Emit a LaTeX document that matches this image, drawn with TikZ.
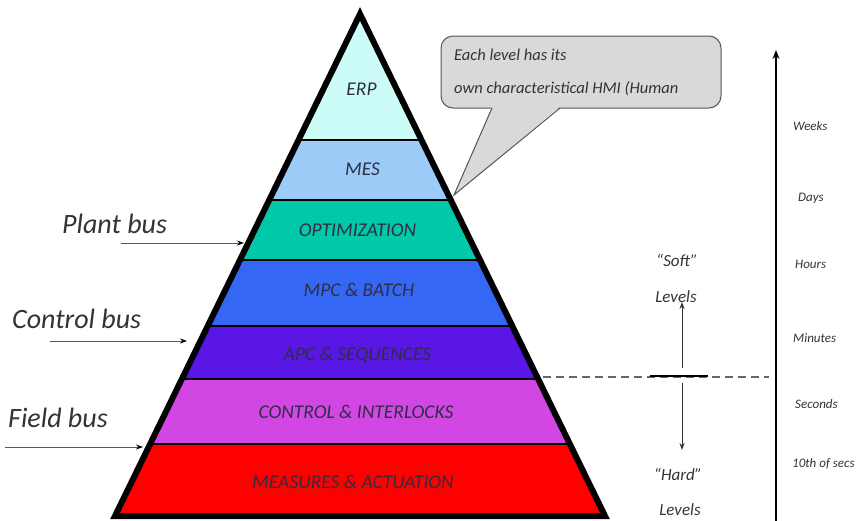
\documentclass[tikz,border=0pt]{standalone}
\usepackage{fontspec}
\setmainfont{Carlito}
\usetikzlibrary{arrows.meta}
\definecolor{erpc}{HTML}{CCFCF8}
\definecolor{mesc}{HTML}{9CCBF8}
\definecolor{optc}{HTML}{00C8A8}
\definecolor{mpcc}{HTML}{3468F4}
\definecolor{apcc}{HTML}{5A16E4}
\definecolor{ctlc}{HTML}{D247E3}
\definecolor{meac}{HTML}{FF0000}
\definecolor{txtc}{HTML}{2E2E44}
\definecolor{labc}{HTML}{333333}
\definecolor{calloutc}{HTML}{D9D9D9}
\definecolor{calloutb}{HTML}{555555}
\tikzset{
  bandtxt/.style={font=\fontsize{19.5}{20}\selectfont\itshape, text=txtc, anchor=base, inner sep=0},
  buslbl/.style={font=\fontsize{28}{30}\selectfont\itshape, text=labc, anchor=base west, inner sep=0},
  timelbl/.style={font=\fontsize{13}{14}\selectfont\itshape, text=labc, anchor=base west, inner sep=0},
  levlbl/.style={font=\fontsize{17}{18}\selectfont\itshape, text=labc, anchor=base, inner sep=0},
  calltxt/.style={font=\fontsize{16.5}{18}\selectfont\itshape, text=labc, anchor=base west, inner sep=0},
  busarrow/.style={draw=gray!70!black, line width=0.9, -{Stealth[length=7pt,width=5pt,black]}},
  levarrow/.style={draw=black!80, line width=0.9, -{Stealth[length=7pt,width=5pt]}},
  bandline/.style={draw=black, line width=2},
}
\begin{document}
\begin{tikzpicture}[x=1pt,y=-1pt]
\useasboundingbox (0,0) rectangle (862,520);
\coordinate (A) at (360,14);
\coordinate (BL) at (115,516);
\coordinate (BR) at (605,516);
\begin{scope}
  \clip (A) -- (BL) -- (BR) -- cycle;
  \fill[erpc] (0,0) rectangle (862,140);
  \fill[mesc] (0,140) rectangle (862,200);
  \fill[optc] (0,200) rectangle (862,260);
  \fill[mpcc] (0,260) rectangle (862,326);
  \fill[apcc] (0,326) rectangle (862,379);
  \fill[ctlc] (0,379) rectangle (862,444);
  \fill[meac] (0,444) rectangle (862,530);
  \draw[bandline] (0,140) -- (862,140);
  \draw[bandline] (0,200) -- (862,200);
  \draw[bandline] (0,260) -- (862,260);
  \draw[bandline] (0,326) -- (862,326);
  \draw[bandline] (0,379) -- (862,379);
  \draw[bandline] (0,444) -- (862,444);
\end{scope}
\draw[line width=6, line join=miter] (A) -- (BL) -- (BR) -- cycle;

\node[bandtxt] (erp) at (361.5,95) {ERP};
\node[bandtxt] (mes) at (362.5,175) {MES};
\node[bandtxt] (opt) at (357.5,236.5) {OPTIMIZATION};
\node[bandtxt] (mpc) at (359,296.5) {MPC \& BATCH};
\node[bandtxt] (apc) at (357.5,360) {APC \& SEQUENCES};
\node[bandtxt] (ctl) at (356,418) {CONTROL \& INTERLOCKS};
\node[bandtxt] (mea) at (353,488) {MEASURES \& ACTUATION};

% callout
\draw[fill=calloutc, draw=calloutb, line width=1, rounded corners=12] (441,36) rectangle (721,108);
\fill[calloutc] (492,106.5) -- (560,106.5) -- (454,195) -- cycle;
\coordinate (ptip) at (454,195);
\draw[calloutb, line width=1, line join=miter] (492,108) -- (ptip) -- (560,108);
\node[calltxt] (c1) at (454,60) {Each level has its};
\node[calltxt] (c2) at (454,93) {own characteristical HMI (Human};

% bus labels
\node[buslbl] (plant) at (62,233) {Plant bus};
\node[buslbl] (control) at (12,328) {Control bus};
\node[buslbl] (field) at (8,427) {Field bus};
\coordinate (p0) at (121,243); \coordinate (p1) at (244,243);
\coordinate (k0) at (50,341); \coordinate (k1) at (187,341);
\coordinate (f0) at (5,447); \coordinate (f1) at (143,447);
\draw[busarrow] (p0) -- (p1);
\draw[busarrow] (k0) -- (k1);
\draw[busarrow] (f0) -- (f1);

% time axis
\coordinate (ax0) at (776,522);
\coordinate (ax1) at (776,50);
\draw[line width=1.3, -{Stealth[length=9pt,width=7pt]}] (ax0) -- (ax1);
\node[timelbl] (weeks) at (793,130) {Weeks};
\node[timelbl] (days) at (798,201) {Days};
\node[timelbl] (hours) at (795,268) {Hours};
\node[timelbl] (minutes) at (793,342) {Minutes};
\node[timelbl] (seconds) at (795,408) {Seconds};
\node[timelbl] (tenth) at (792,467) {10th of secs};

% soft / hard
\coordinate (d0) at (543,377); \coordinate (d1) at (769,377);
\draw[gray!80!black, line width=1.1, dash pattern=on 8pt off 5pt] (d0) -- (d1);
\coordinate (s0) at (650,376); \coordinate (s1) at (708,376);
\draw[black, line width=2.6] (s0) -- (s1);
\coordinate (u0) at (682,368); \coordinate (u1) at (682,302);
\coordinate (w0) at (682,383); \coordinate (w1) at (682,450);
\draw[levarrow] (u0) -- (u1);
\draw[levarrow] (w0) -- (w1);
\node[levlbl] (soft) at (677,266) {“Soft”};
\node[levlbl] (softl) at (676,302) {Levels};
\node[levlbl] (hard) at (678,480) {“Hard”};
\node[levlbl] (hardl) at (680,515) {Levels};
\end{tikzpicture}
\end{document}
